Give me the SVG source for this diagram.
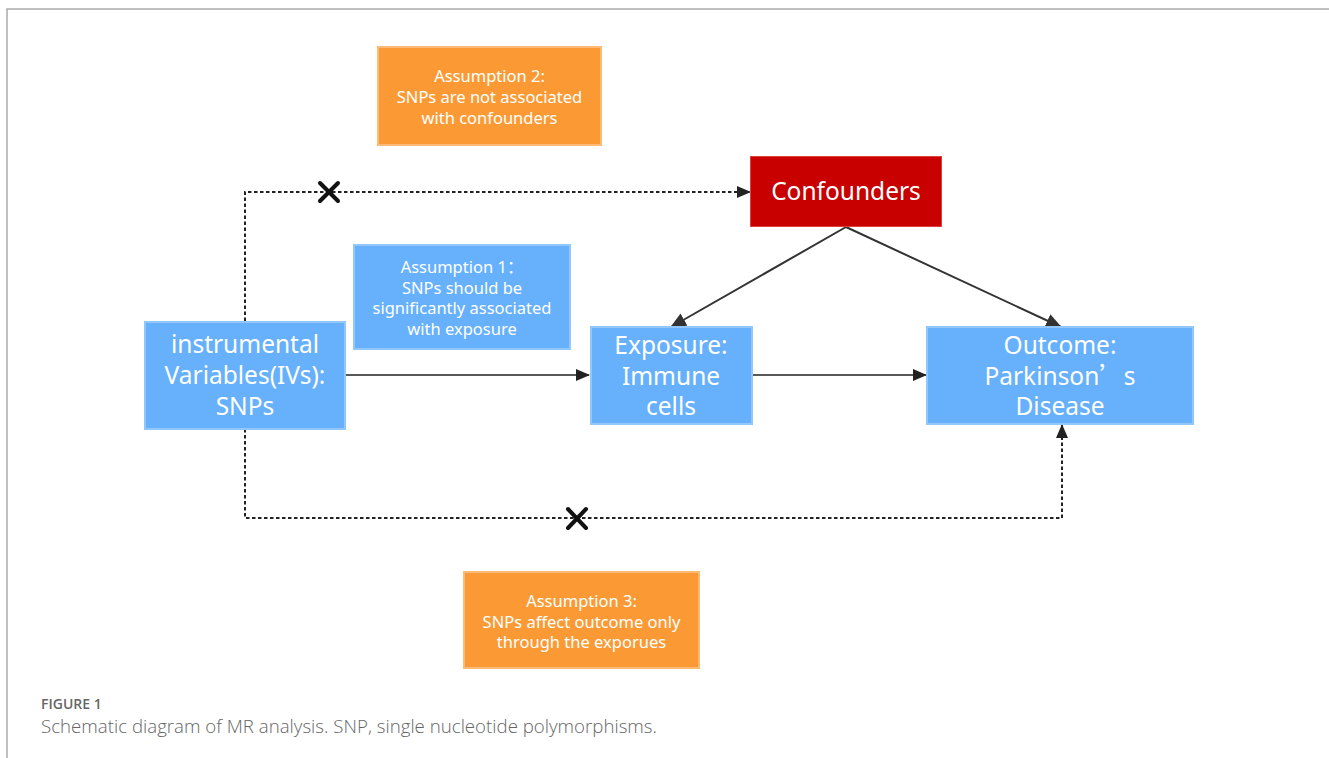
<svg xmlns="http://www.w3.org/2000/svg" width="1329" height="758" viewBox="0 0 1329 758">
<defs>
<style>
.blue{fill:#66B0FC;stroke:#92C7FC;stroke-width:2}
.orange{fill:#FB9A34;stroke:#FDB976;stroke-width:2}
.red{fill:#C90000;stroke:#E04040;stroke-width:1}
.big{font-family:"Noto Sans","Open Sans",sans-serif;font-size:24.5px;fill:#fff;text-anchor:middle}
.small{font-family:"Noto Sans","Open Sans",sans-serif;font-size:16.5px;fill:#fff;text-anchor:middle}
.cjk{font-family:"Noto Sans CJK SC",sans-serif}
.solid{fill:none;stroke:#222;stroke-width:1.6}
.diag{fill:none;stroke:#333;stroke-width:2}
.dash{fill:none;stroke:#222;stroke-width:2;stroke-dasharray:3.5 2.5}
.x{stroke:#111;stroke-width:4;stroke-linecap:round}
.cap{font-family:"Open Sans","Noto Sans",sans-serif;fill:#666}
</style>
<marker id="ah" markerUnits="userSpaceOnUse" markerWidth="14" markerHeight="12" refX="13" refY="6" orient="auto">
<path d="M0,0 L14,6 L0,12 Z" fill="#222"/>
</marker>
<marker id="ah2" markerUnits="userSpaceOnUse" markerWidth="16" markerHeight="14" refX="15" refY="7" orient="auto">
<path d="M0,0 L16,7 L0,14 Z" fill="#333"/>
</marker>
</defs>
<rect x="0" y="0" width="1329" height="758" fill="#fff"/>
<path d="M7,758 V9 H1329" fill="none" stroke="#aaa" stroke-width="1.5"/>

<g id="connectors">
<path class="solid" d="M346,375 H589" marker-end="url(#ah)"/>
<path class="solid" d="M752,375 H926" marker-end="url(#ah)"/>
<path class="diag" d="M846,227 L671,327" marker-end="url(#ah2)"/>
<path class="diag" d="M846,227 L1061,327" marker-end="url(#ah2)"/>
<path class="dash" d="M245,321 V192 H750" marker-end="url(#ah)"/>
<path class="dash" d="M245,429 V518 H1062 V425" marker-end="url(#ah)"/>
<g id="x1"><line class="x" x1="320" y1="183" x2="338" y2="201"/><line class="x" x1="338" y1="183" x2="320" y2="201"/></g>
<g id="x2"><line class="x" x1="568" y1="509" x2="586" y2="528"/><line class="x" x1="586" y1="509" x2="568" y2="528"/></g>
</g>

<g id="assumption2">
<rect class="orange" x="378" y="47" width="223" height="98"/>
<text class="small" x="489.5" y="82">Assumption 2:</text>
<text class="small" x="489.5" y="103">SNPs are not associated</text>
<text class="small" x="489.5" y="124">with confounders</text>
</g>

<g id="confounders">
<rect class="red" x="750.5" y="156.5" width="191" height="70"/>
<text class="big" x="846" y="200">Confounders</text>
</g>

<g id="assumption1">
<rect class="blue" x="354" y="245" width="216" height="104"/>
<text class="small" x="462" y="273">Assumption 1<tspan class="cjk">：</tspan></text>
<text class="small" x="462" y="293.5">SNPs should be</text>
<text class="small" x="462" y="314">significantly associated</text>
<text class="small" x="462" y="334.5">with exposure</text>
</g>

<g id="ivs">
<rect class="blue" x="145" y="322" width="200" height="107"/>
<text class="big" x="245" y="353">instrumental</text>
<text class="big" x="245" y="384">Variables(IVs):</text>
<text class="big" x="245" y="415">SNPs</text>
</g>

<g id="exposure">
<rect class="blue" x="591" y="327" width="161" height="97"/>
<text class="big" x="671" y="354">Exposure:</text>
<text class="big" x="671" y="385">Immune</text>
<text class="big" x="671" y="415">cells</text>
</g>

<g id="outcome">
<rect class="blue" x="927" y="327" width="266" height="97"/>
<text class="big" x="1060" y="354">Outcome:</text>
<text class="big" x="1060" y="385">Parkinson<tspan class="cjk">’</tspan>s</text>
<text class="big" x="1060" y="415">Disease</text>
</g>

<g id="assumption3">
<rect class="orange" x="464" y="572" width="235" height="96"/>
<text class="small" x="581.5" y="607">Assumption 3:</text>
<text class="small" x="581.5" y="627.5">SNPs affect outcome only</text>
<text class="small" x="581.5" y="648">through the exporues</text>
</g>

<text class="cap" x="41" y="709" font-size="14" font-weight="600" fill="#777">FIGURE 1</text>
<text class="cap" x="41" y="733" font-size="18" font-weight="300" textLength="616" lengthAdjust="spacingAndGlyphs">Schematic diagram of MR analysis. SNP, single nucleotide polymorphisms.</text>
</svg>
